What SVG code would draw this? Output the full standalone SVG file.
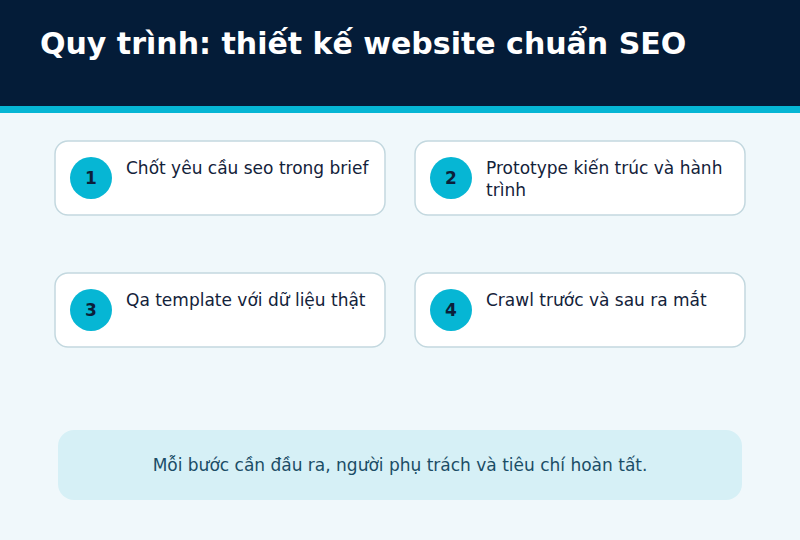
<svg xmlns="http://www.w3.org/2000/svg" width="800" height="540" viewBox="0 0 800 540">
<style>
.card{fill:#ffffff;stroke:#c3d8df;stroke-width:1.5}
.num{fill:#06b6d4}
.numt{font-family:"DejaVu Sans",sans-serif;font-weight:bold;font-size:17px;fill:#0b1f3a;text-anchor:middle}
.lbl{font-family:"DejaVu Sans",sans-serif;font-size:17px;fill:#13223a}
</style>
<rect x="0" y="0" width="800" height="540" fill="#f0f8fb"/>
<rect x="0" y="0" width="800" height="106" fill="#041c38"/>
<rect x="0" y="106" width="800" height="7" fill="#06b6d4"/>
<text x="40" y="54" font-family="DejaVu Sans, sans-serif" font-weight="bold" font-size="30" fill="#ffffff">Quy trình: thiết kế website chuẩn SEO</text>
<g id="connectors"></g>
<g id="step1">
<rect class="card" x="55" y="141" width="330" height="74" rx="13"/>
<circle class="num" cx="91" cy="178" r="21"/>
<text class="numt" x="91" y="184">1</text>
<text class="lbl" x="126" y="174">Chốt yêu cầu seo trong brief</text>
</g>
<g id="step2">
<rect class="card" x="415" y="141" width="330" height="74" rx="13"/>
<circle class="num" cx="451" cy="178" r="21"/>
<text class="numt" x="451" y="184">2</text>
<text class="lbl" x="486" y="174">Prototype kiến trúc và hành</text>
<text class="lbl" x="486" y="196">trình</text>
</g>
<g id="step3">
<rect class="card" x="55" y="273" width="330" height="74" rx="13"/>
<circle class="num" cx="91" cy="310" r="21"/>
<text class="numt" x="91" y="316">3</text>
<text class="lbl" x="126" y="306">Qa template với dữ liệu thật</text>
</g>
<g id="step4">
<rect class="card" x="415" y="273" width="330" height="74" rx="13"/>
<circle class="num" cx="451" cy="310" r="21"/>
<text class="numt" x="451" y="316">4</text>
<text class="lbl" x="486" y="306">Crawl trước và sau ra mắt</text>
</g>
<g id="note">
<rect x="58" y="430" width="684" height="70" rx="16" fill="#d6f0f6"/>
<text x="400" y="471" font-family="DejaVu Sans, sans-serif" font-size="17" fill="#1b4d66" text-anchor="middle">Mỗi bước cần đầu ra, người phụ trách và tiêu chí hoàn tất.</text>
</g>
</svg>
